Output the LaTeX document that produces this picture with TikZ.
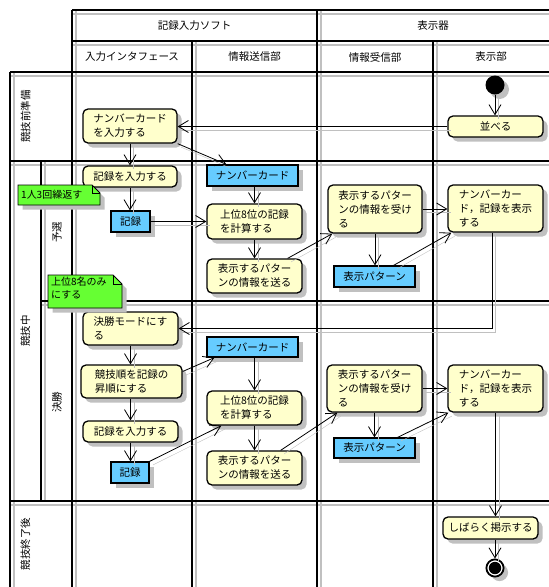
\documentclass[tikz,border=0pt]{standalone}
\usepackage{fontspec}
\setmainfont{Noto Sans CJK JP}
\usetikzlibrary{arrows.meta,shadows}
\definecolor{actyel}{HTML}{FFFFCC}
\definecolor{objblue}{HTML}{66CCFF}
\definecolor{notegreen}{HTML}{66FF33}
\definecolor{shd}{HTML}{C0C0C0}
\begin{document}
\begin{tikzpicture}[x=1pt,y=-1pt,
  lane/.style={line width=1.8pt,black},
  laneshd/.style={line width=2.6pt,shd},
  boxshadow/.style={drop shadow={shadow xshift=4.5pt,shadow yshift=-4.5pt,fill=shd,opacity=1}},
  act/.style={draw,line width=1.3pt,rounded corners=5pt,fill=actyel,inner sep=0pt,align=left,font=\fontsize{10.5}{14}\selectfont,boxshadow},
  obj/.style={draw,line width=1.3pt,fill=objblue,inner sep=0pt,font=\fontsize{10.5}{14}\selectfont,boxshadow},
  conn/.style={line width=0.8pt,-{Straight Barb[length=10pt,width=12pt]},
    preaction={draw=shd,arrows=-,transform canvas={shift={(3.5pt,-3.5pt)}}}},
  lbl/.style={font=\fontsize{10.5}{12}\selectfont},
  notetxt/.style={inner sep=0pt,align=left,font=\fontsize{10}{12.5}\selectfont},
  notebox/.style={draw,line width=0.9pt,fill=notegreen},
]
\useasboundingbox (0,0) rectangle (549,587);
% lane shadows
\draw[laneshd] (72,14) -- (549,14);
\draw[laneshd] (72,45) -- (549,45);
\draw[laneshd] (10,76) -- (549,76);
\draw[laneshd] (10,165) -- (549,165);
\draw[laneshd] (41,305) -- (549,305);
\draw[laneshd] (10,505) -- (549,505);
\draw[laneshd] (14,72) -- (14,587);
\draw[laneshd] (45,161) -- (45,501);
\draw[laneshd] (76,10) -- (76,587);
\draw[laneshd] (196,41) -- (196,587);
\draw[laneshd] (321,10) -- (321,587);
\draw[laneshd] (437,41) -- (437,587);
% lanes
\draw[lane] (72,10) -- (549,10);
\draw[lane] (72,41) -- (549,41);
\draw[lane] (10,72) -- (549,72);
\draw[lane] (10,161) -- (549,161);
\draw[lane] (41,301) -- (549,301);
\draw[lane] (10,501) -- (549,501);
\draw[lane] (10,72) -- (10,587);
\draw[lane] (41,161) -- (41,501);
\draw[lane] (72,10) -- (72,587);
\draw[lane] (192,41) -- (192,587);
\draw[lane] (317,10) -- (317,587);
\draw[lane] (433,41) -- (433,587);
% headers
\node[lbl] (hA) at (194.5,26) {記録入力ソフト};
\node[lbl] (hB) at (433,26) {表示器};
\node[lbl] (h1) at (132,57) {入力インタフェース};
\node[lbl] (h2) at (254.5,57) {情報送信部};
\node[lbl] (h3) at (375,57) {情報受信部};
\node[lbl] (h4) at (491,57) {表示部};
\node[lbl,rotate=90] (r1) at (25.5,116.5) {競技前準備};
\node[lbl,rotate=90] (r2) at (25.5,331) {競技中};
\node[lbl,rotate=90] (r3) at (57,232) {予選};
\node[lbl,rotate=90] (r4) at (57,402) {決勝};
\node[lbl,rotate=90] (r5) at (25.5,544) {競技終了後};
% nodes
\node[circle,fill=black,minimum size=19pt,inner sep=0pt,boxshadow] (init) at (495,85) {};
\node[act,minimum width=95pt,minimum height=21pt] (narabe) at (495.5,126.5) {並べる};
\node[act,minimum width=94pt,minimum height=34pt] (ncin) at (130,126) {ナンバーカード\\を入力する};
\node[act,minimum width=94pt,minimum height=21pt] (kin1) at (130,176.5) {記録を入力する};
\node[obj,minimum width=91pt,minimum height=21pt] (nc1) at (252.5,175.5) {ナンバーカード};
\node[obj,minimum width=39pt,minimum height=21pt] (kiroku1) at (130.5,221.5) {記録};
\node[act,minimum width=95pt,minimum height=35pt] (jo1) at (254.5,221.5) {上位8位の記録\\を計算する};
\node[act,minimum width=95pt,minimum height=34pt] (send1) at (254.5,276) {表示するパター\\ンの情報を送る};
\node[act,minimum width=94pt,minimum height=48pt] (recv1) at (375,209) {表示するパター\\ンの情報を受け\\る};
\node[obj,minimum width=81pt,minimum height=21pt] (pat1) at (374.5,276.5) {表示パターン};
\node[act,minimum width=95pt,minimum height=47pt] (hyo1) at (495.5,208.5) {ナンバーカー\\ド，記録を表示\\する};
\node[act,minimum width=95pt,minimum height=33pt] (kessho) at (130.5,328.5) {決勝モードにす\\る};
\node[act,minimum width=101pt,minimum height=33pt] (jun) at (131.5,381.5) {競技順を記録の\\昇順にする};
\node[act,minimum width=95pt,minimum height=21pt] (kin2) at (130.5,431.5) {記録を入力する};
\node[obj,minimum width=38pt,minimum height=21pt] (kiroku2) at (130,472.5) {記録};
\node[obj,minimum width=91pt,minimum height=20pt] (nc2) at (252.5,347) {ナンバーカード};
\node[act,minimum width=95pt,minimum height=34pt] (jo2) at (254.5,408) {上位8位の記録\\を計算する};
\node[act,minimum width=95pt,minimum height=34pt] (send2) at (254.5,468) {表示するパター\\ンの情報を送る};
\node[act,minimum width=95pt,minimum height=47pt] (recv2) at (374.5,388.5) {表示するパター\\ンの情報を受け\\る};
\node[obj,minimum width=81pt,minimum height=20pt] (pat2) at (374.5,448) {表示パターン};
\node[act,minimum width=95pt,minimum height=47pt] (hyo2) at (495.5,388.5) {ナンバーカー\\ド，記録を表示\\する};
\node[act,minimum width=95pt,minimum height=22pt] (keiji) at (490.5,528) {しばらく掲示する};
\node[circle,draw=black,line width=1.8pt,fill=white,minimum size=17.2pt,inner sep=0pt,boxshadow] (final) at (495,568) {};
\fill[black] (final.center) circle (6.2);
% connectors
\draw[conn] (init.south) -- (init.south |- narabe.north);
\draw[conn] (narabe.west) -- (narabe.west -| ncin.east);
\draw[conn] (ncin.south) -- (kin1.north);
\draw[conn] (ncin.south east) -- ([xshift=20pt]nc1.north west);
\draw[conn] (kin1.south) -- (kin1.south |- kiroku1.north);
\draw[conn] (kiroku1.east) -- (jo1.west);
\draw[conn] (nc1.south -| jo1.north) -- (jo1.north);
\draw[conn] (jo1.south) -- (send1.north);
\draw[conn] ([xshift=-15pt]send1.north east) -- ([xshift=5pt]recv1.south west);
\draw[conn] (recv1.south) -- (recv1.south |- pat1.north);
\draw[conn] (recv1.east) -- (recv1.east -| hyo1.west);
\draw[conn] ([xshift=-22pt]pat1.north east) -- ([xshift=4pt]hyo1.south west);
\draw[conn] ([xshift=-3.5pt]hyo1.south) |- (kessho.east);
\draw[conn] (kessho.south) -- (kessho.south |- jun.north);
\draw[conn] (jun.south -| kin2.north) -- (kin2.north);
\draw[conn] ([yshift=10pt]jun.east) -- ([xshift=8pt]nc2.south west);
\draw[conn] (kin2.south) -- (kin2.south |- kiroku2.north);
\draw[conn] (kiroku2.north east) -- ([xshift=15pt]jo2.south west);
\draw[conn] (nc2.south -| jo2.north) -- (jo2.north);
\draw[conn] (jo2.south) -- (send2.north);
\draw[conn] ([xshift=-22pt]send2.north east) -- ([xshift=11pt]recv2.south west);
\draw[conn] (recv2.south) -- (recv2.south |- pat2.north);
\draw[conn] (recv2.east) -- (recv2.east -| hyo2.west);
\draw[conn] ([xshift=-18pt]pat2.north east) -- ([xshift=1pt]hyo2.south west);
\draw[conn] (hyo2.south) -- (hyo2.south |- keiji.north);
\draw[conn] (final.north |- keiji.south) -- (final.north);
% notes
\fill[shd] (22.5,189.5) -- (96.5,189.5) -- (104.5,197.5) -- (104.5,209.5) -- (22.5,209.5) -- cycle;
\draw[notebox] (18,185) -- (92,185) -- (100,193) -- (100,205) -- (18,205) -- cycle;
\draw[line width=0.8pt] (92,185) -- (92,193) -- (100,193);
\node[notetxt,anchor=west] (note1) at (21,194.5) {1人3回繰返す};
\fill[shd] (52.5,279.5) -- (117.5,279.5) -- (126.5,288.5) -- (126.5,312.5) -- (52.5,312.5) -- cycle;
\draw[notebox] (48,275) -- (113,275) -- (122,284) -- (122,308) -- (48,308) -- cycle;
\draw[line width=0.8pt] (113,275) -- (113,284) -- (122,284);
\node[notetxt,anchor=north west] (note2) at (51,277) {上位8名のみ\\にする};
\end{tikzpicture}
\end{document}
